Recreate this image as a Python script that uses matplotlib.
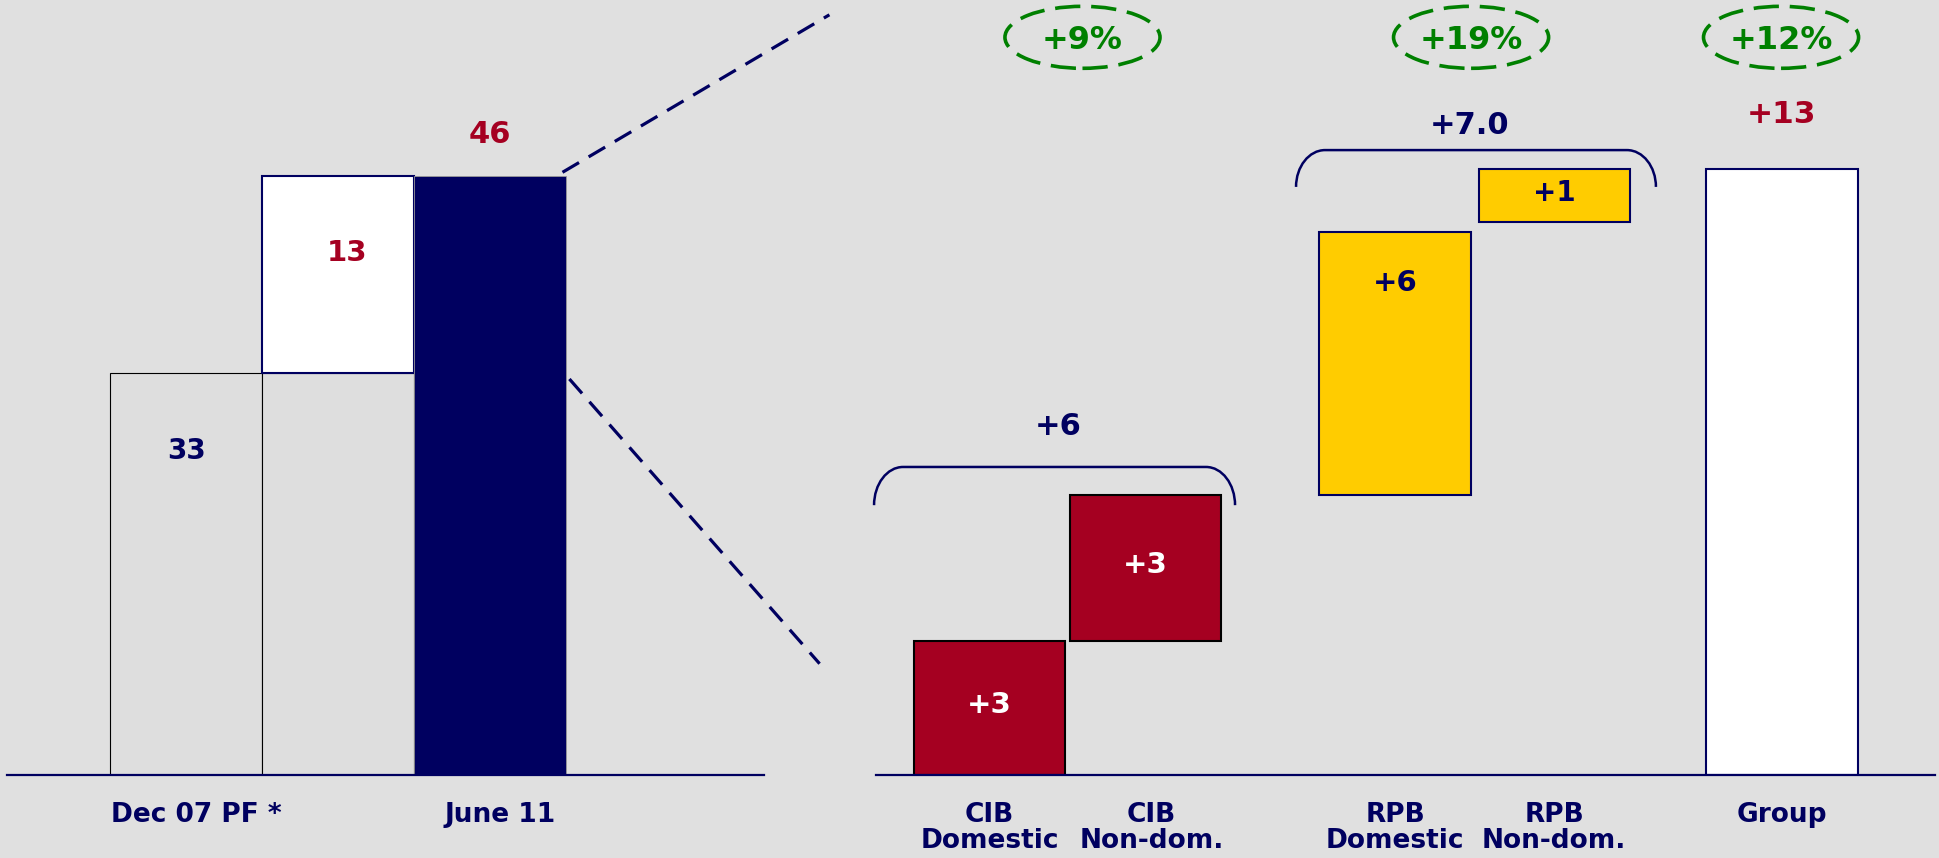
import matplotlib
matplotlib.use("Agg")
import matplotlib.pyplot as plt
from matplotlib.patches import Ellipse, PathPatch
from matplotlib.path import Path
from matplotlib.lines import Line2D

# ---------------- data ----------------
left_categories = ['Dec 07 PF *', 'June 11']
left_start = 33
left_increase = 13
left_end = 46

right_categories = ['CIB\nDomestic', 'CIB\nNon-dom.', 'RPB\nDomestic', 'RPB\nNon-dom.', 'Group']
right_bottoms = [0, 2.88, 6.0, 11.87]
right_heights = [2.88, 3.12, 5.65, 1.13]
right_labels = ['+3', '+3', '+6', '+1']
group_total = 13
group_label = '+13'
brace_labels = ['+6', '+7.0']
growth_labels = ['+9%', '+19%', '+12%']

# ---------------- style ----------------
NAVY = '#000060'
RED = '#A50021'
YELLOW = '#FFCC00'
GREEN = '#008000'
BG = '#E0E0E0'
plt.rcParams['font.family'] = ['DejaVu Sans']
plt.rcParams['font.weight'] = 'bold'

W, H = 1939, 858
fig = plt.figure(figsize=(W / 100, H / 100), dpi=100, facecolor=BG)

def style_axes(ax):
    ax.set_facecolor('none')
    for s in ['top', 'left', 'right']:
        ax.spines[s].set_visible(False)
    ax.spines['bottom'].set_color(NAVY)
    ax.spines['bottom'].set_linewidth(1.6)
    ax.set_yticks([])
    ax.tick_params(axis='x', length=0, pad=19.5, labelsize=19, labelcolor=NAVY)

# ---------------- left panel ----------------
base_px = 775
ax1 = fig.add_axes([6.9 / W, (H - base_px) / H, (764 - 6.9) / W, base_px / H])
style_axes(ax1)
lpx = 15.15
lbase = 6.44
ax1.set_xlim(-1.18, 3.80)
ax1.set_ylim(lbase, lbase + base_px / lpx)

ax1.bar(0, left_start, width=1.0, color='#DEDEDE', edgecolor='black', linewidth=0.8)
ax1.bar(1, left_start, width=1.0, color='#DEDEDE', edgecolor='black', linewidth=0.8)
ax1.bar(1, left_increase, bottom=left_start, width=1.0, color='white', edgecolor=NAVY, linewidth=1.5)
ax1.bar(2, left_end, width=1.0, color=NAVY, edgecolor='#9a9a9a', linewidth=0.6)

ax1.text(0, left_start - 5.2, str(left_start), ha='center', va='center', color=NAVY, fontsize=20)
ax1.text(1.06, left_start + left_increase - 5.1, str(left_increase), ha='center', va='center', color=RED, fontsize=21)
ax1.text(2, left_end + 2.75, str(left_end), ha='center', va='center', color=RED, fontsize=22)

ax1.set_xticks([0.065, 2.065])
ax1.set_xticklabels(left_categories)

# ---------------- right panel ----------------
x_left_px, x_right_px = 875.5, 1935
ax2 = fig.add_axes([x_left_px / W, (H - base_px) / H, (x_right_px - x_left_px) / W, base_px / H])
style_axes(ax2)
rx_px = 156.0
ry_px = 46.6
ax2.set_xlim((x_left_px - 989.5) / rx_px, (x_right_px - 989.5) / rx_px)
ax2.set_ylim(0, base_px / ry_px)

pos = [0, 1, 2.6, 3.62, 5.08]
bw = 0.97
fills = [RED, RED, YELLOW, YELLOW]
edges = ['black', 'black', NAVY, NAVY]
txtc = ['white', 'white', NAVY, NAVY]
sizes = [21, 21, 21, 20]
for i in range(4):
    ax2.bar(pos[i], right_heights[i], bottom=right_bottoms[i], width=bw,
            color=fills[i], edgecolor=edges[i], linewidth=1.5)
    if right_heights[i] < 4:
        ty = right_bottoms[i] + right_heights[i] / 2 + 0.06
    else:
        ty = right_bottoms[i] + right_heights[i] - 1.1
    ax2.text(pos[i], ty, right_labels[i], ha='center', va='center', color=txtc[i], fontsize=sizes[i])

ax2.bar(pos[4], group_total, width=bw, color='white', edgecolor=NAVY, linewidth=1.5)
ax2.text(pos[4], group_total + 1.18, group_label, ha='center', va='center', color=RED, fontsize=22.5)

ax2.set_xticks([0, 1.04, 2.6, 3.62, 5.08])
ax2.set_xticklabels(right_categories, linespacing=0.98, va='top')


def brace(ax, x0, x1, ytop, ybot, rx, ry):
    k = 0.5523
    verts = [(x0, ybot),
             (x0, ybot + k * ry), (x0 + rx * (1 - k), ytop), (x0 + rx, ytop),
             (x1 - rx, ytop),
             (x1 - rx * (1 - k), ytop), (x1, ybot + k * ry), (x1, ybot)]
    codes = [Path.MOVETO, Path.CURVE4, Path.CURVE4, Path.CURVE4, Path.LINETO,
             Path.CURVE4, Path.CURVE4, Path.CURVE4]
    ax.add_patch(PathPatch(Path(verts, codes), facecolor='none', edgecolor=NAVY,
                           linewidth=1.8, clip_on=False))

cib_top = right_bottoms[1] + right_heights[1]
rpb_top = group_total
brace(ax2, pos[0] - 0.74, pos[1] + 0.574, cib_top + 0.61, cib_top - 0.21, 0.186, 0.82)
brace(ax2, pos[2] - 0.635, pos[3] + 0.652, rpb_top + 0.41, rpb_top - 0.38, 0.186, 0.79)
ax2.text(pos[0] + 0.44, cib_top + 1.47, brace_labels[0], ha='center', va='center', color=NAVY, fontsize=22)
ax2.text((pos[2] + pos[3]) / 2 - 0.03, rpb_top + 0.93, brace_labels[1], ha='center', va='center', color=NAVY, fontsize=22)

ell_x = [0.596, 3.087, 5.074]
ell_y = 15.83
for ex, lab in zip(ell_x, growth_labels):
    ax2.add_patch(Ellipse((ex, ell_y), 0.994, 1.33, facecolor='none', edgecolor=GREEN,
                          linewidth=2.6, linestyle=(0, (7, 3)), clip_on=False))
    ax2.text(ex, ell_y - 0.06, lab, ha='center', va='center', color=GREEN, fontsize=23)

# ---------------- zoom connector lines ----------------
for (xa, ya), (xb, yb) in [((562.5, 172.3), (829.4, 14.8)), ((569.4, 379.0), (819.6, 663.7))]:
    fig.add_artist(Line2D([xa / W, xb / W], [1 - ya / H, 1 - yb / H], transform=fig.transFigure,
                          color=NAVY, linewidth=2.3, linestyle=(0, (6, 3.5))))

fig.savefig('out.png', dpi=100, facecolor=BG)
